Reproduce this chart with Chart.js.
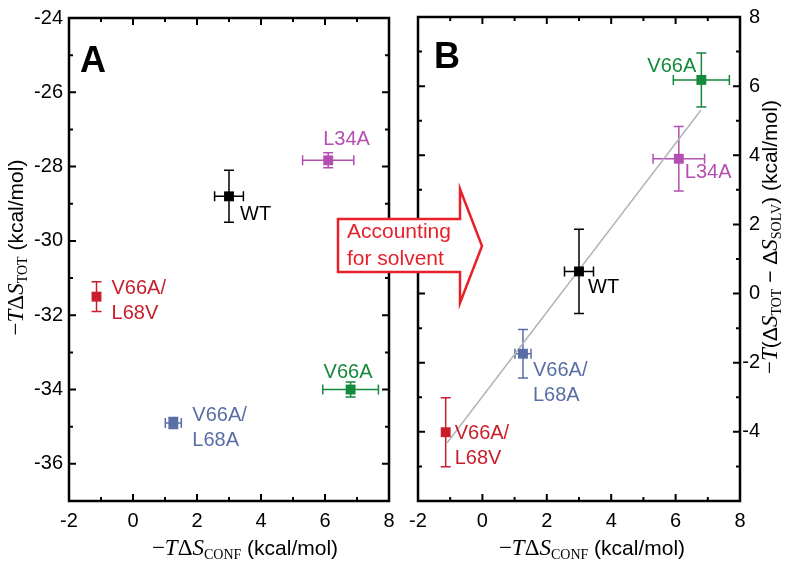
<!DOCTYPE html>
<html>
<head>
<meta charset="utf-8">
<script src="https://cdn.jsdelivr.net/npm/chart.js@4.4.1/dist/chart.umd.min.js"></script>
<style>
body { margin: 0; background: #fff; }
#wrap { position: relative; width: 800px; height: 564px; }
canvas { position: absolute; left: 0; top: 0; }
</style>
</head>
<body>
<div id="wrap">
<canvas id="chartA" width="800" height="564"></canvas>
<canvas id="chartB" width="800" height="564"></canvas>
</div>
<script>
// data
var mutants = ['WT', 'L34A', 'V66A', 'V66A/L68A', 'V66A/L68V'];
var confEntropy = [3.0, 6.1, 6.8, 1.26, -1.14];
var confErr = [0.45, 0.8, 0.87, 0.25, 0];
var totEntropy = [-28.8, -27.83, -34.0, -34.9, -31.5];
var totErr = [0.7, 0.2, 0.2, 0.15, 0.4];
var solvCorrected = [0.64, 3.9, 6.18, -1.74, -4.01];
var solvErr = [1.22, 0.93, 0.78, 0.7, 1.0];
var fitX = [-1.1, 6.79];
var fitY = [-4.32, 5.31];
var xTicks = [-2, 0, 2, 4, 6, 8];
var yTicksA = [-36, -34, -32, -30, -28, -26, -24];
var yTicksB = [-4, -2, 0, 2, 4, 6, 8];

// styles
var colors = ['#000000', '#b44fb2', '#15893c', '#5a6ea6', '#c81e2b'];
var labelPosA = [[11, 24], [-5, -15], [-27, -12], [19, -2], [15, -3]];
var labelPosB = [[9, 22], [6, 19], [-54, -8], [10, 22], [9, 7]];
var SANS = '"Liberation Sans", Arial, sans-serif';
var SERIF = '"Liberation Serif", "Times New Roman", serif';

function pointsOf(xs, ys) {
    var pts = [];
    for (var i = 0; i < xs.length; i++) pts.push({x: xs[i], y: ys[i]});
    return pts;
}

function drawRichText(ctx, parts, cx, cy, vertical) {
    ctx.save();
    var total = 0;
    parts.forEach(function (p) { ctx.font = p[1]; total += ctx.measureText(p[0]).width; });
    ctx.translate(cx, cy);
    if (vertical) ctx.rotate(-Math.PI / 2);
    ctx.textBaseline = 'alphabetic';
    ctx.textAlign = 'left';
    ctx.fillStyle = '#000';
    var x = -total / 2;
    parts.forEach(function (p) {
        ctx.font = p[1];
        ctx.fillText(p[0], x, p[2] || 0);
        x += ctx.measureText(p[0]).width;
    });
    ctx.restore();
}

function frameAndTicks(chart) {
    var ctx = chart.ctx, a = chart.chartArea, xs = chart.scales.x, ys = chart.scales.y;
    ctx.save();
    ctx.strokeStyle = '#000';
    ctx.lineWidth = 2;
    ctx.beginPath();
    for (var v = Math.ceil(xs.min); v <= xs.max; v++) {
        var px = xs.getPixelForValue(v);
        var len = v % 2 == 0 ? 7 : 4;
        ctx.moveTo(px, a.bottom); ctx.lineTo(px, a.bottom - len);
        ctx.moveTo(px, a.top); ctx.lineTo(px, a.top + len);
    }
    for (var w = Math.ceil(ys.min); w <= ys.max; w++) {
        var py = ys.getPixelForValue(w);
        var l2 = w % 2 == 0 ? 7 : 4;
        ctx.moveTo(a.left, py); ctx.lineTo(a.left + l2, py);
        ctx.moveTo(a.right, py); ctx.lineTo(a.right - l2, py);
    }
    ctx.stroke();
    ctx.lineWidth = 2.5;
    ctx.strokeRect(a.left, a.top, a.right - a.left, a.bottom - a.top);
    ctx.restore();
}

function errorBars(chart, yErr) {
    var ctx = chart.ctx, xs = chart.scales.x, ys = chart.scales.y;
    var pts = chart.data.datasets[0].data;
    ctx.save();
    ctx.lineWidth = 1.5;
    for (var i = 0; i < pts.length; i++) {
        var px = xs.getPixelForValue(pts[i].x), py = ys.getPixelForValue(pts[i].y);
        ctx.strokeStyle = colors[i];
        ctx.beginPath();
        if (confErr[i] > 0) {
            var x1 = xs.getPixelForValue(pts[i].x - confErr[i]), x2 = xs.getPixelForValue(pts[i].x + confErr[i]);
            ctx.moveTo(x1, py); ctx.lineTo(x2, py);
            ctx.moveTo(x1, py - 5); ctx.lineTo(x1, py + 5);
            ctx.moveTo(x2, py - 5); ctx.lineTo(x2, py + 5);
        }
        if (yErr[i] > 0) {
            var y1 = ys.getPixelForValue(pts[i].y - yErr[i]), y2 = ys.getPixelForValue(pts[i].y + yErr[i]);
            ctx.moveTo(px, y1); ctx.lineTo(px, y2);
            ctx.moveTo(px - 5, y1); ctx.lineTo(px + 5, y1);
            ctx.moveTo(px - 5, y2); ctx.lineTo(px + 5, y2);
        }
        ctx.stroke();
    }
    ctx.restore();
}

function pointLabels(chart, offsets) {
    var ctx = chart.ctx, xs = chart.scales.x, ys = chart.scales.y;
    var pts = chart.data.datasets[0].data;
    ctx.save();
    ctx.font = '20px ' + SANS;
    ctx.textBaseline = 'alphabetic';
    for (var i = 0; i < pts.length; i++) {
        var px = xs.getPixelForValue(pts[i].x), py = ys.getPixelForValue(pts[i].y);
        var name = mutants[i];
        var lines = name.indexOf('/') > 0 ? [name.split('/')[0] + '/', name.split('/')[1]] : [name];
        ctx.fillStyle = colors[i];
        for (var k = 0; k < lines.length; k++) {
            ctx.fillText(lines[k], px + offsets[i][0], py + offsets[i][1] + k * 25);
        }
    }
    ctx.restore();
}

var xTitle = [['\u2212', '23px ' + SERIF], ['T', 'italic 23px ' + SERIF], ['\u0394', '23px ' + SERIF],
    ['S', 'italic 23px ' + SERIF], ['CONF', '14px ' + SERIF, 4], [' (kcal/mol)', '21px ' + SANS]];
var yTitleA = [['\u2212', '23px ' + SERIF], ['T', 'italic 23px ' + SERIF], ['\u0394', '23px ' + SERIF],
    ['S', 'italic 23px ' + SERIF], ['TOT', '14px ' + SERIF, 4], [' (kcal/mol)', '21px ' + SANS]];
var yTitleB = [['\u2212', '23px ' + SERIF], ['T', 'italic 23px ' + SERIF], ['(', '21px ' + SANS],
    ['\u0394', '21px ' + SANS], ['S', 'italic 23px ' + SERIF], ['TOT', '14px ' + SERIF, 4],
    [' \u2212 ', '21px ' + SANS], ['\u0394', '21px ' + SANS], ['S', 'italic 23px ' + SERIF],
    ['SOLV', '14px ' + SERIF, 4], [') (kcal/mol)', '21px ' + SANS]];

function baseScales(yMin, yMax, yTicks, yPos, yWidth, cross, yPad) {
    var tickFont = {family: SANS, size: 20};
    return {
        x: {
            type: 'linear', min: -2, max: 8,
            grid: {display: false, drawTicks: false}, border: {display: false},
            ticks: {font: tickFont, color: '#000', padding: 8},
            afterBuildTicks: function (s) { s.ticks = xTicks.map(function (v) { return {value: v}; }); },
            afterFit: function (s) { s.height = 63; }
        },
        y: {
            type: 'linear', position: yPos, min: yMin, max: yMax,
            grid: {display: false, drawTicks: false}, border: {display: false},
            ticks: {font: tickFont, color: '#000', padding: yPad, crossAlign: cross},
            afterBuildTicks: function (s) { s.ticks = yTicks.map(function (v) { return {value: v}; }); },
            afterFit: function (s) { s.width = yWidth; }
        }
    };
}

var chartA = new Chart(document.getElementById('chartA'), {
    type: 'scatter',
    data: {
        datasets: [{
            data: pointsOf(confEntropy, totEntropy),
            pointStyle: 'rect', pointRadius: 7, pointBorderWidth: 0,
            pointBackgroundColor: colors
        }]
    },
    options: {
        responsive: false, animation: false, devicePixelRatio: 1,
        layout: {padding: {left: 0, top: 17, right: 411, bottom: 0}},
        plugins: {legend: {display: false}, tooltip: {enabled: false}},
        scales: baseScales(-37, -24, yTicksA, 'left', 69, 'near', 6)
    },
    plugins: [{
        id: 'panelA',
        beforeDatasetsDraw: function (c) { errorBars(c, totErr); },
        afterDatasetsDraw: function (c) { pointLabels(c, labelPosA); },
        afterDraw: function (c) {
            frameAndTicks(c);
            var ctx = c.ctx, a = c.chartArea;
            ctx.save();
            ctx.font = 'bold 36px ' + SANS;
            ctx.fillStyle = '#000';
            ctx.fillText('A', a.left + 11, a.top + 54);
            ctx.restore();
            drawRichText(ctx, xTitle, (a.left + a.right) / 2 + 16, 555, false);
            drawRichText(ctx, yTitleA, 23, (a.top + a.bottom) / 2 - 12, true);
        }
    }]
});

var chartB = new Chart(document.getElementById('chartB'), {
    type: 'scatter',
    data: {
        datasets: [{
            data: pointsOf(confEntropy, solvCorrected),
            pointStyle: 'rect', pointRadius: 7, pointBorderWidth: 0,
            pointBackgroundColor: colors
        }, {
            data: pointsOf(fitX, fitY),
            showLine: true, borderColor: '#b4b4b4', borderWidth: 1.5, pointRadius: 0
        }]
    },
    options: {
        responsive: false, animation: false, devicePixelRatio: 1,
        layout: {padding: {left: 418, top: 17, right: 40, bottom: 0}},
        plugins: {legend: {display: false}, tooltip: {enabled: false}},
        scales: baseScales(-6, 8, yTicksB, 'right', 20, 'far', 0)
    },
    plugins: [{
        id: 'panelB',
        beforeDatasetsDraw: function (c) { errorBars(c, solvErr); },
        afterDatasetsDraw: function (c) { pointLabels(c, labelPosB); },
        afterDraw: function (c) {
            frameAndTicks(c);
            var ctx = c.ctx, a = c.chartArea;
            ctx.save();
            ctx.font = 'bold 36px ' + SANS;
            ctx.fillStyle = '#000';
            ctx.fillText('B', a.left + 16, a.top + 51);
            ctx.restore();
            drawRichText(ctx, xTitle, (a.left + a.right) / 2 + 13, 555, false);
            drawRichText(ctx, yTitleB, 777, (a.top + a.bottom) / 2 - 22, true);

            // arrow between the panels
            var L = a.left - 80, R = a.left + 42, T = 219, Bt = 272;
            ctx.save();
            ctx.beginPath();
            ctx.moveTo(L, T); ctx.lineTo(R, T); ctx.lineTo(R, 189);
            ctx.lineTo(R + 22, 246); ctx.lineTo(R, 303); ctx.lineTo(R, Bt);
            ctx.lineTo(L, Bt); ctx.closePath();
            ctx.fillStyle = '#fff';
            ctx.fill();
            ctx.strokeStyle = '#e8202a';
            ctx.lineWidth = 2.5;
            ctx.stroke();
            ctx.fillStyle = '#e8202a';
            ctx.font = '21px ' + SANS;
            ctx.fillText('Accounting', L + 9, 238);
            ctx.fillText('for solvent', L + 9, 265);
            ctx.restore();
        }
    }]
});
</script>
</body>
</html>
